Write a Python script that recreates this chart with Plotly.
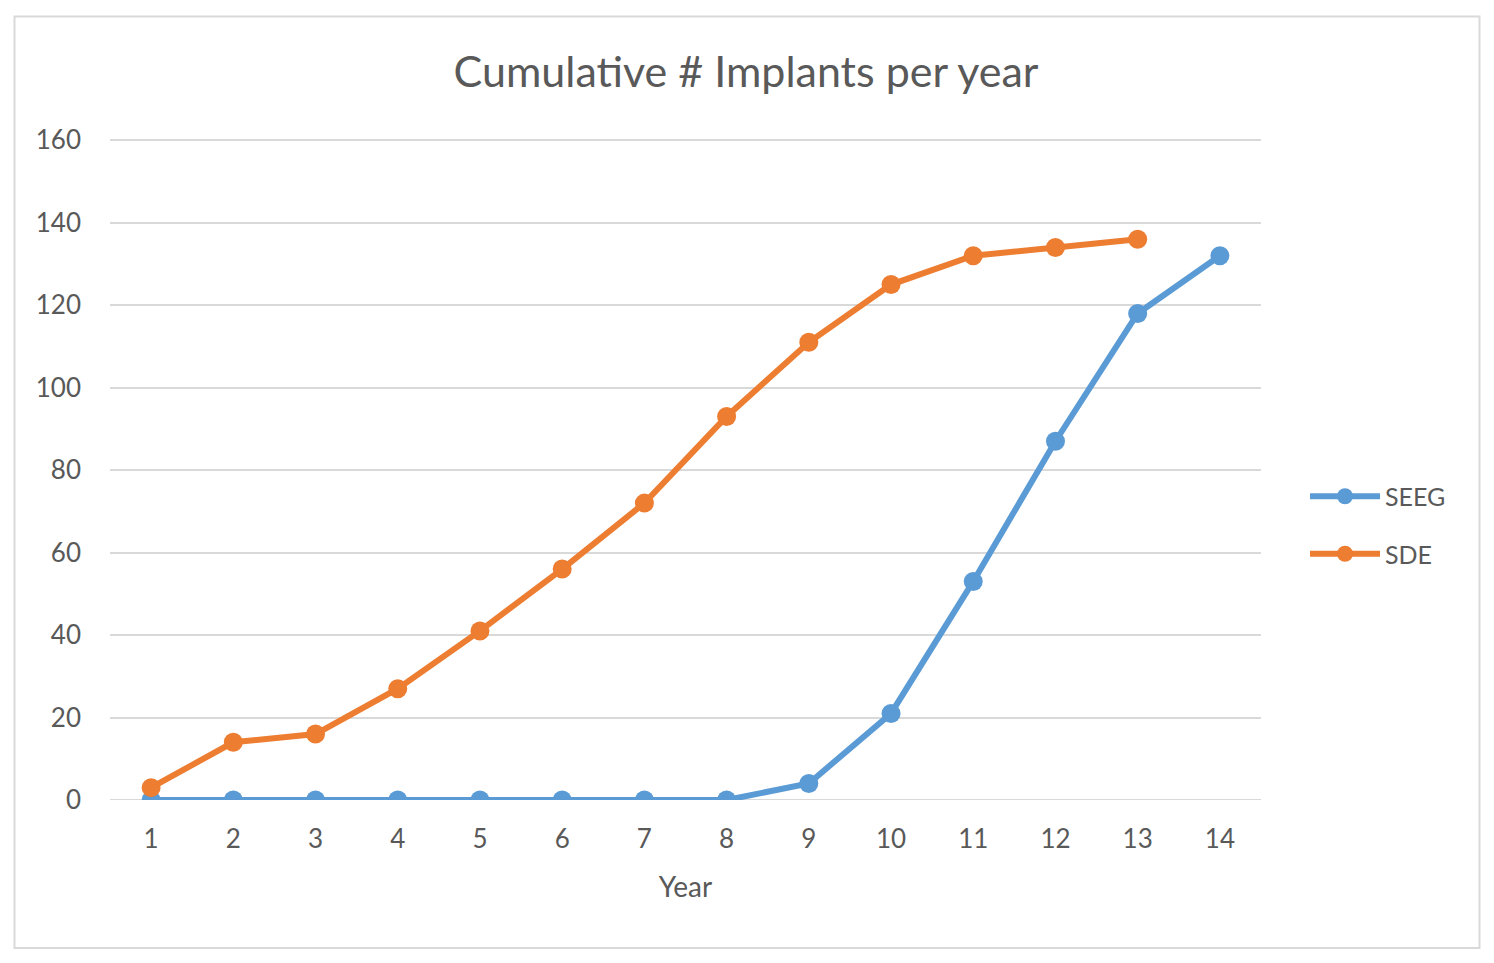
import plotly.graph_objects as go

years = list(range(1, 15))
seeg = [0, 0, 0, 0, 0, 0, 0, 0, 4, 21, 53, 87, 118, 132]
sde = [3, 14, 16, 27, 41, 56, 72, 93, 111, 125, 132, 134, 136, None]
y_ticks = [0, 20, 40, 60, 80, 100, 120, 140, 160]

W, H = 1494, 963
L, R, T, B = 110, 1261, 139, 800
pw, ph = R - L, B - T

def px_x(x):
    return (x - L) / pw

def px_y(y):
    return (B - y) / ph

FONT = "Lato"
TXT = "#595959"

fig = go.Figure()
fig.add_trace(go.Scatter(x=years, y=seeg, name="SEEG", mode="lines+markers",
                         line=dict(color="#5B9BD5", width=6),
                         marker=dict(size=19, color="#5B9BD5"),
                         legendgroup="a"))
fig.add_trace(go.Scatter(x=years, y=sde, name="SDE", mode="lines+markers",
                         line=dict(color="#ED7D31", width=6),
                         marker=dict(size=19, color="#ED7D31"),
                         legendgroup="b"))

fig.update_layout(
    width=W, height=H,
    margin=dict(l=L, r=W - R, t=T, b=H - B, pad=0),
    paper_bgcolor="white", plot_bgcolor="white",
    font=dict(family=FONT, color=TXT, size=26),
    title=dict(text="Cumulative # Implants per year", x=746 / W, xanchor="center",
               y=1 - 72 / H, yanchor="middle",
               font=dict(size=43, color=TXT, family=FONT)),
    showlegend=True,
    legend=dict(x=px_x(1305), y=px_y(525), xanchor="left", yanchor="middle",
                font=dict(size=25, color=TXT), tracegroupgap=22, itemwidth=70,
                bgcolor="rgba(0,0,0,0)"),
    xaxis=dict(range=[0.5, 14.5], tickmode="array", tickvals=years,
               ticktext=[str(v) for v in years], showgrid=False,
               zeroline=False, showline=False, ticks="",
               ticklabelstandoff=21,
               title=dict(text="Year", font=dict(size=28, color=TXT), standoff=24)),
    yaxis=dict(range=[0, 160.3], tickmode="array", tickvals=y_ticks,
               showgrid=True, gridcolor="#d9d9d9", gridwidth=2,
               zeroline=False, showline=False, ticks="",
               ticklabelstandoff=28),
    shapes=[
        dict(type="line", xref="paper", yref="y", x0=0, x1=1, y0=0, y1=0,
             line=dict(color="#d9d9d9", width=2), layer="below"),
        dict(type="rect", xref="paper", yref="paper",
             x0=px_x(14.5), x1=px_x(1479.5), y0=px_y(948), y1=px_y(16.5),
             line=dict(color="#d9d9d9", width=2), layer="below"),
    ],
)

fig.write_html("out.html", config={"displayModeBar": False},
               post_script="document.body.style.margin='0';document.body.style.overflow='hidden';")
